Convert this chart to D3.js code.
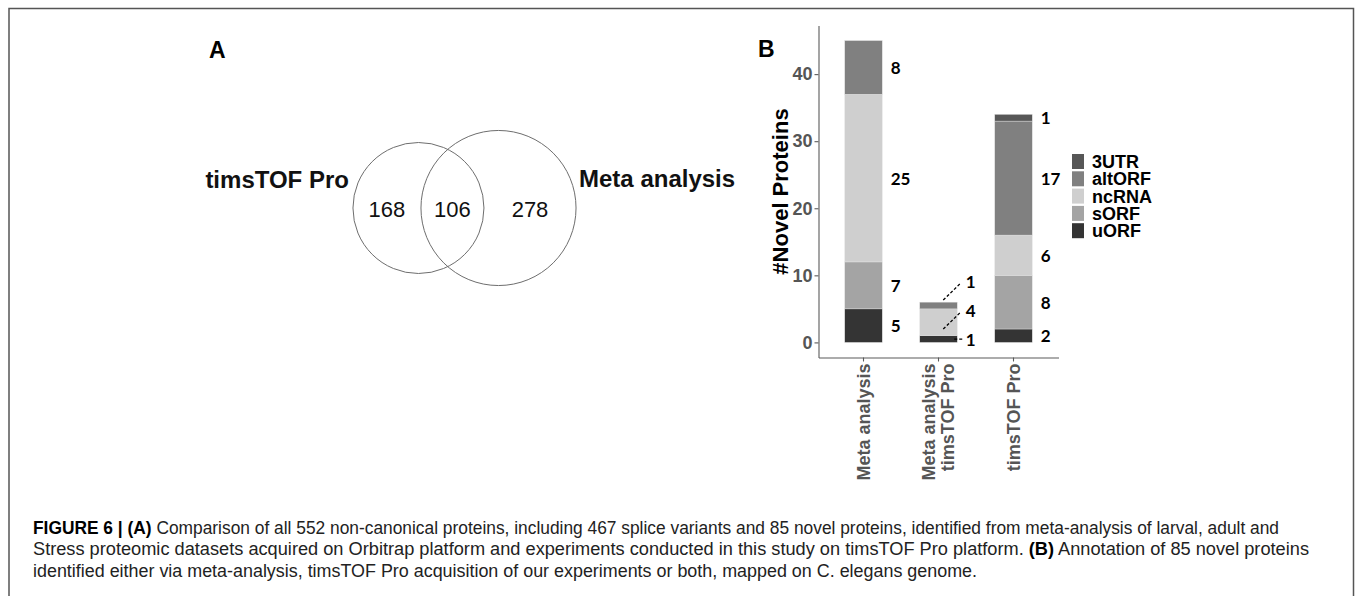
<!DOCTYPE html>
<html><head><meta charset="utf-8">
<script src="https://cdn.jsdelivr.net/npm/d3@7"></script>
<style>html,body{margin:0;padding:0;background:#fff;} svg{display:block;}</style>
</head><body>
<svg id="fig" width="1355" height="596"></svg>
<script>
// ---------- data ----------
const categories = ["Meta analysis", "Meta analysis\ntimsTOF Pro", "timsTOF Pro"];
const annotationTypes = ["3UTR", "altORF", "ncRNA", "sORF", "uORF"]; // legend order
const uORF = [5, 1, 2];
const sORF = [7, 0, 8];
const ncRNA = [25, 4, 6];
const altORF = [8, 1, 17];
const utr3 = [0, 0, 1];
const yTicks = [0, 10, 20, 30, 40];
const vennSetNames = ["timsTOF Pro", "Meta analysis"];
const vennUnique = [168, 278];
const vennShared = 106;
const captionLines = [
  [["FIGURE 6 | (A)", true], [" Comparison of all 552 non-canonical proteins, including 467 splice variants and 85 novel proteins, identified from meta-analysis of larval, adult and", false]],
  [["Stress proteomic datasets acquired on Orbitrap platform and experiments conducted in this study on timsTOF Pro platform. ", false], ["(B)", true], [" Annotation of 85 novel proteins", false]],
  [["identified either via meta-analysis, timsTOF Pro acquisition of our experiments or both, mapped on C. elegans genome.", false]]
];

// ---------- setup ----------
const svg = d3.select("#fig");
const FONT = "'Liberation Sans', Arial, Helvetica, sans-serif";
const fills = {"3UTR": "#575757", "altORF": "#808080", "ncRNA": "#cfcfcf", "sORF": "#a4a4a4", "uORF": "#343434"};

// frame
svg.append("path").attr("d", "M9,596 L9,8.5 L1353.5,8.5 L1353.5,596")
  .attr("fill", "none").attr("stroke", "#555").attr("stroke-width", 1.5);

// panel letters
svg.append("text").attr("x", 209).attr("y", 58).text("A")
  .attr("font-family", FONT).attr("font-weight", "bold").attr("font-size", 23).attr("fill", "#000");
svg.append("text").attr("x", 758).attr("y", 57).text("B")
  .attr("font-family", FONT).attr("font-weight", "bold").attr("font-size", 23).attr("fill", "#000");

// ---------- Venn (area proportional) ----------
const k = 3.957;
const setTotals = [vennUnique[0] + vennShared, vennUnique[1] + vennShared];
const r1 = k * Math.sqrt(setTotals[0]), r2 = k * Math.sqrt(setTotals[1]);
function lens(a, b, d) {
  if (d >= a + b) return 0;
  if (d <= Math.abs(a - b)) return Math.PI * Math.min(a, b) ** 2;
  const t1 = a * a * Math.acos((d * d + a * a - b * b) / (2 * d * a));
  const t2 = b * b * Math.acos((d * d + b * b - a * a) / (2 * d * b));
  const t3 = 0.5 * Math.sqrt((-d + a + b) * (d + a - b) * (d - a + b) * (d + a + b));
  return t1 + t2 - t3;
}
const target = Math.PI * k * k * vennShared;
let lo = Math.abs(r1 - r2), hi = r1 + r2;
for (let it = 0; it < 60; it++) {
  const mid = (lo + hi) / 2;
  if (lens(r1, r2, mid) > target) lo = mid; else hi = mid;
}
const dist = (lo + hi) / 2;
const vennMidX = 464.5, vennCy = 208;
const left = vennMidX - (r1 + dist + r2) / 2;
const cx1 = left + r1, cx2 = cx1 + dist;
const venn = svg.append("g");
venn.selectAll("circle").data([[cx1, r1], [cx2, r2]]).join("circle")
  .attr("cx", d => d[0]).attr("cy", vennCy).attr("r", d => d[1])
  .attr("fill", "none").attr("stroke", "#6e6e6e").attr("stroke-width", 1);
const regionX = [
  ((cx1 - r1) + (cx2 - r2)) / 2,
  ((cx2 - r2) + (cx1 + r1)) / 2,
  ((cx1 + r1) + (cx2 + r2)) / 2
];
const regionVals = [vennUnique[0], vennShared, vennUnique[1]];
venn.selectAll("text.num").data(regionVals).join("text").attr("class", "num")
  .attr("x", (d, i) => regionX[i]).attr("y", vennCy + 1)
  .attr("text-anchor", "middle").attr("dominant-baseline", "central")
  .attr("font-family", FONT).attr("font-size", 22).attr("fill", "#111").text(d => d);
venn.append("text").attr("x", cx1 - r1 - 4).attr("y", vennCy - 20)
  .attr("text-anchor", "end").attr("font-family", FONT).attr("font-weight", "bold")
  .attr("font-size", 24).attr("fill", "#111").text(vennSetNames[0]);
venn.append("text").attr("x", cx2 + r2 + 3).attr("y", vennCy - 21)
  .attr("text-anchor", "start").attr("font-family", FONT).attr("font-weight", "bold")
  .attr("font-size", 24).attr("fill", "#111").text(vennSetNames[1]);

// ---------- stacked bars ----------
const table = categories.map((c, i) => ({cat: c, uORF: uORF[i], sORF: sORF[i], ncRNA: ncRNA[i], altORF: altORF[i], "3UTR": utr3[i]}));
const stackKeys = ["uORF", "sORF", "ncRNA", "altORF", "3UTR"];
const series = d3.stack().keys(stackKeys)(table);

const x = d3.scaleBand().domain(categories).range([818.5, 1058.5]).paddingInner(0.5).paddingOuter(0.35);
const y = d3.scaleLinear().domain([-2.25, 47.25]).range([357.5, 25.5]);

const bars = svg.append("g");
series.forEach(s => {
  bars.append("g").selectAll("rect").data(s.filter(d => d[1] > d[0])).join("rect")
    .attr("x", d => x(d.data.cat)).attr("width", x.bandwidth())
    .attr("y", d => y(d[1])).attr("height", d => y(d[0]) - y(d[1]))
    .attr("fill", fills[s.key]).attr("stroke", "#e4e4e4").attr("stroke-width", 0.4);
});

// axes
const yAxis = svg.append("g").attr("transform", "translate(818.5,0)")
  .call(d3.axisLeft(y).tickValues(yTicks).tickSize(4).tickSizeOuter(0).tickPadding(2));
const xAxis = svg.append("g").attr("transform", "translate(0,357.5)")
  .call(d3.axisBottom(x).tickSize(4).tickSizeOuter(0).tickFormat(""));
[yAxis, xAxis].forEach(g => {
  g.select(".domain").attr("stroke", "#5a5a5a").attr("stroke-width", 1.1);
  g.selectAll(".tick line").attr("stroke", "#5a5a5a").attr("stroke-width", 1.1);
});
yAxis.selectAll(".tick text").attr("font-family", FONT).attr("font-weight", "bold")
  .attr("font-size", 18).attr("fill", "#555");

// x tick labels rotated
const xl = svg.append("g");
categories.forEach(c => {
  const lines = c.split("\n");
  const cx = x(c) + x.bandwidth() / 2;
  const lh = 19.5;
  lines.forEach((ln, j) => {
    const off = (j - (lines.length - 1) / 2) * lh;
    xl.append("text")
      .attr("transform", `translate(${cx + off},${357.5 + 6}) rotate(-90)`)
      .attr("text-anchor", "end").attr("dominant-baseline", "central")
      .attr("font-family", FONT).attr("font-weight", "bold").attr("font-size", 18)
      .attr("fill", "#555").text(ln);
  });
});

// y axis title
svg.append("text").attr("transform", `translate(780,${(y.range()[0] + y.range()[1]) / 2}) rotate(-90)`)
  .attr("text-anchor", "middle").attr("dominant-baseline", "central")
  .attr("font-family", FONT).attr("font-weight", "bold").attr("font-size", 22).attr("fill", "#000")
  .text("#Novel Proteins");

// value labels with simple repel
const labG = svg.append("g");
categories.forEach((c, i) => {
  const xr = x(c) + x.bandwidth();
  const lx = xr + 8.5;
  let prev = Infinity;
  const labs = [];
  series.forEach(s => {
    const d = s[i];
    if (d[1] <= d[0]) return;
    const cy = y((d[0] + d[1]) / 2);
    const ly = Math.min(cy, prev - 29);
    labs.push({v: d[1] - d[0], ly, displaced: ly < cy - 1});
    prev = ly;
  });
  const anyDisp = labs.some(l => l.displaced);
  labs.forEach(l => {
    labG.append("text").attr("x", lx).attr("y", l.ly)
      .attr("dominant-baseline", "central")
      .attr("font-family", "Lato, 'Open Sans', sans-serif").attr("font-weight", "bold")
      .attr("font-size", 17).attr("fill", "#000").text(l.v);
    if (anyDisp) {
      const pts = l.displaced ? [[xr - 14, l.ly + 19], [lx - 6, l.ly + 3]] : [[xr - 3, l.ly], [lx - 3, l.ly]];
      labG.append("line").attr("x1", pts[0][0]).attr("y1", pts[0][1]).attr("x2", pts[1][0]).attr("y2", pts[1][1])
        .attr("stroke", "#000").attr("stroke-width", 1.3).attr("stroke-dasharray", "3,2");
    }
  });
});

// legend
const lg = svg.append("g").attr("transform", "translate(1072,154)");
annotationTypes.forEach((t, i) => {
  const row = lg.append("g").attr("transform", `translate(0,${i * 17.3})`);
  row.append("rect").attr("width", 12).attr("height", 15).attr("fill", fills[t]);
  row.append("text").attr("x", 20).attr("y", 8).attr("dominant-baseline", "central")
    .attr("font-family", FONT).attr("font-weight", "bold").attr("font-size", 18).attr("fill", "#000").text(t);
});

// caption
const capLens = [1246, 1276, 944];
captionLines.forEach((parts, i) => {
  const t = svg.append("text").attr("x", 33).attr("y", 534 + i * 21.3)
    .attr("font-family", FONT).attr("font-size", 17.5).attr("fill", "#222")
    .attr("textLength", capLens[i]).attr("lengthAdjust", "spacingAndGlyphs");
  parts.forEach(p => {
    t.append("tspan").attr("font-weight", p[1] ? "bold" : "normal").attr("fill", p[1] ? "#000" : "#222").text(p[0]);
  });
});
</script>
</body></html>
